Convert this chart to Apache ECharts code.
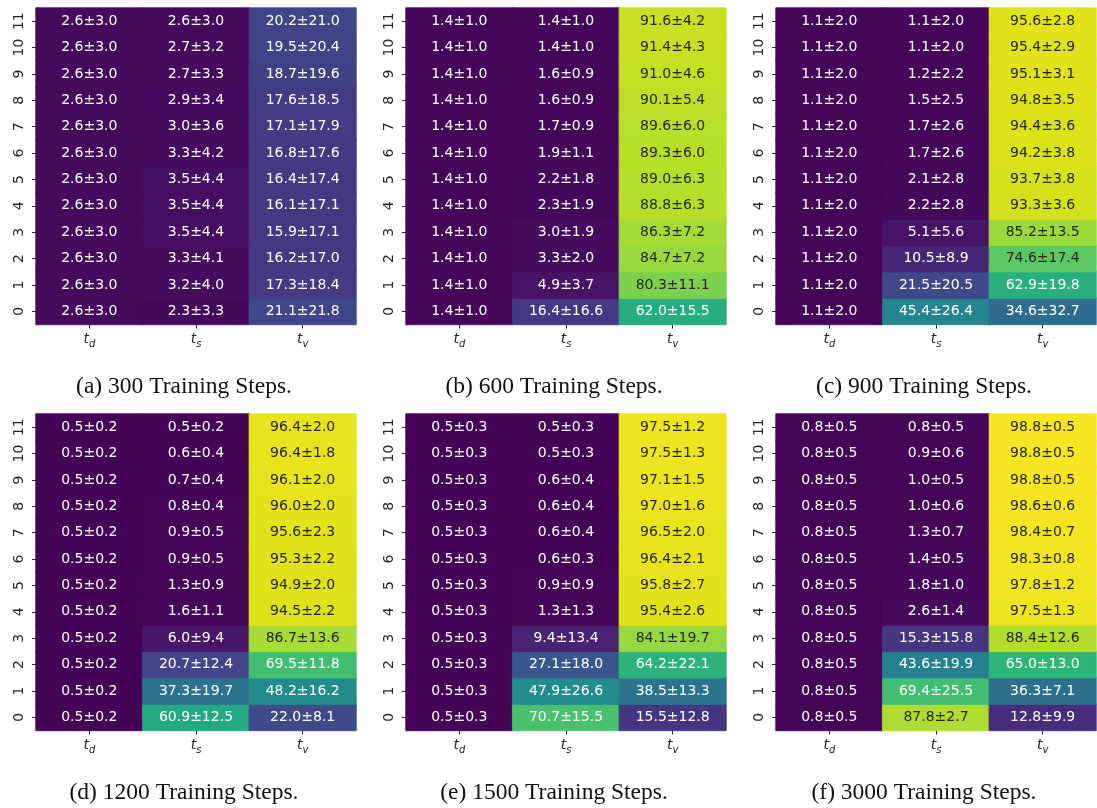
<!DOCTYPE html>
<html><head><meta charset="utf-8">
<script src="https://cdn.jsdelivr.net/npm/echarts@6/dist/echarts.min.js"></script>
<style>html,body{margin:0;padding:0;background:#fff}#c{width:1097px;height:808px}</style>
</head><body><div id="c"></div>
<script>
// ---------- data ----------
const rowLabels = ['0','1','2','3','4','5','6','7','8','9','10','11'];
const colLabels = ['t_d','t_s','t_v'];
const captions = ['(a) 300 Training Steps.','(b) 600 Training Steps.','(c) 900 Training Steps.',
                  '(d) 1200 Training Steps.','(e) 1500 Training Steps.','(f) 3000 Training Steps.'];

// values listed for rows 0 .. 11
const s300_tdMean = [2.6,2.6,2.6,2.6,2.6,2.6,2.6,2.6,2.6,2.6,2.6,2.6];
const s300_tdStd  = [3.0,3.0,3.0,3.0,3.0,3.0,3.0,3.0,3.0,3.0,3.0,3.0];
const s300_tsMean = [2.3,3.2,3.3,3.5,3.5,3.5,3.3,3.0,2.9,2.7,2.7,2.6];
const s300_tsStd  = [3.3,4.0,4.1,4.4,4.4,4.4,4.2,3.6,3.4,3.3,3.2,3.0];
const s300_tvMean = [21.1,17.3,16.2,15.9,16.1,16.4,16.8,17.1,17.6,18.7,19.5,20.2];
const s300_tvStd  = [21.8,18.4,17.0,17.1,17.1,17.4,17.6,17.9,18.5,19.6,20.4,21.0];

const s600_tdMean = [1.4,1.4,1.4,1.4,1.4,1.4,1.4,1.4,1.4,1.4,1.4,1.4];
const s600_tdStd  = [1.0,1.0,1.0,1.0,1.0,1.0,1.0,1.0,1.0,1.0,1.0,1.0];
const s600_tsMean = [16.4,4.9,3.3,3.0,2.3,2.2,1.9,1.7,1.6,1.6,1.4,1.4];
const s600_tsStd  = [16.6,3.7,2.0,1.9,1.9,1.8,1.1,0.9,0.9,0.9,1.0,1.0];
const s600_tvMean = [62.0,80.3,84.7,86.3,88.8,89.0,89.3,89.6,90.1,91.0,91.4,91.6];
const s600_tvStd  = [15.5,11.1,7.2,7.2,6.3,6.3,6.0,6.0,5.4,4.6,4.3,4.2];

const s900_tdMean = [1.1,1.1,1.1,1.1,1.1,1.1,1.1,1.1,1.1,1.1,1.1,1.1];
const s900_tdStd  = [2.0,2.0,2.0,2.0,2.0,2.0,2.0,2.0,2.0,2.0,2.0,2.0];
const s900_tsMean = [45.4,21.5,10.5,5.1,2.2,2.1,1.7,1.7,1.5,1.2,1.1,1.1];
const s900_tsStd  = [26.4,20.5,8.9,5.6,2.8,2.8,2.6,2.6,2.5,2.2,2.0,2.0];
const s900_tvMean = [34.6,62.9,74.6,85.2,93.3,93.7,94.2,94.4,94.8,95.1,95.4,95.6];
const s900_tvStd  = [32.7,19.8,17.4,13.5,3.6,3.8,3.8,3.6,3.5,3.1,2.9,2.8];

const s1200_tdMean = [0.5,0.5,0.5,0.5,0.5,0.5,0.5,0.5,0.5,0.5,0.5,0.5];
const s1200_tdStd  = [0.2,0.2,0.2,0.2,0.2,0.2,0.2,0.2,0.2,0.2,0.2,0.2];
const s1200_tsMean = [60.9,37.3,20.7,6.0,1.6,1.3,0.9,0.9,0.8,0.7,0.6,0.5];
const s1200_tsStd  = [12.5,19.7,12.4,9.4,1.1,0.9,0.5,0.5,0.4,0.4,0.4,0.2];
const s1200_tvMean = [22.0,48.2,69.5,86.7,94.5,94.9,95.3,95.6,96.0,96.1,96.4,96.4];
const s1200_tvStd  = [8.1,16.2,11.8,13.6,2.2,2.0,2.2,2.3,2.0,2.0,1.8,2.0];

const s1500_tdMean = [0.5,0.5,0.5,0.5,0.5,0.5,0.5,0.5,0.5,0.5,0.5,0.5];
const s1500_tdStd  = [0.3,0.3,0.3,0.3,0.3,0.3,0.3,0.3,0.3,0.3,0.3,0.3];
const s1500_tsMean = [70.7,47.9,27.1,9.4,1.3,0.9,0.6,0.6,0.6,0.6,0.5,0.5];
const s1500_tsStd  = [15.5,26.6,18.0,13.4,1.3,0.9,0.3,0.4,0.4,0.4,0.3,0.3];
const s1500_tvMean = [15.5,38.5,64.2,84.1,95.4,95.8,96.4,96.5,97.0,97.1,97.5,97.5];
const s1500_tvStd  = [12.8,13.3,22.1,19.7,2.6,2.7,2.1,2.0,1.6,1.5,1.3,1.2];

const s3000_tdMean = [0.8,0.8,0.8,0.8,0.8,0.8,0.8,0.8,0.8,0.8,0.8,0.8];
const s3000_tdStd  = [0.5,0.5,0.5,0.5,0.5,0.5,0.5,0.5,0.5,0.5,0.5,0.5];
const s3000_tsMean = [87.8,69.4,43.6,15.3,2.6,1.8,1.4,1.3,1.0,1.0,0.9,0.8];
const s3000_tsStd  = [2.7,25.5,19.9,15.8,1.4,1.0,0.5,0.7,0.6,0.5,0.6,0.5];
const s3000_tvMean = [12.8,36.3,65.0,88.4,97.5,97.8,98.3,98.4,98.6,98.8,98.8,98.8];
const s3000_tvStd  = [9.9,7.1,13.0,12.6,1.3,1.2,0.8,0.7,0.6,0.5,0.5,0.5];

// ---------- build ----------
const panelData = [
  [[s300_tdMean,s300_tdStd],[s300_tsMean,s300_tsStd],[s300_tvMean,s300_tvStd]],
  [[s600_tdMean,s600_tdStd],[s600_tsMean,s600_tsStd],[s600_tvMean,s600_tvStd]],
  [[s900_tdMean,s900_tdStd],[s900_tsMean,s900_tsStd],[s900_tvMean,s900_tvStd]],
  [[s1200_tdMean,s1200_tdStd],[s1200_tsMean,s1200_tsStd],[s1200_tvMean,s1200_tvStd]],
  [[s1500_tdMean,s1500_tdStd],[s1500_tsMean,s1500_tsStd],[s1500_tvMean,s1500_tvStd]],
  [[s3000_tdMean,s3000_tdStd],[s3000_tsMean,s3000_tsStd],[s3000_tvMean,s3000_tvStd]]
];

const VIRIDIS = ['#440154','#471365','#482475','#463480','#414487','#3b528b','#355f8d','#2f6c8e',
  '#2a788e','#25848e','#21918c','#1e9c89','#22a884','#2fb47c','#44bf70','#5ec962','#7ad151',
  '#9bd93c','#bddf26','#dfe318','#fde725'];

function hex2rgb(h){return [parseInt(h.substr(1,2),16),parseInt(h.substr(3,2),16),parseInt(h.substr(5,2),16)];}
function viridisRGB(t){
  t=Math.max(0,Math.min(1,t));
  const f=t*(VIRIDIS.length-1), i=Math.min(Math.floor(f),VIRIDIS.length-2), r=f-i;
  const a=hex2rgb(VIRIDIS[i]), b=hex2rgb(VIRIDIS[i+1]);
  return a.map((v,k)=>v+(b[k]-v)*r);
}
function viridisCss(v){const c=viridisRGB(v/100).map(Math.round);return 'rgb('+c.join(',')+')';}
function textColorFor(v){
  const c=viridisRGB(v/100).map(x=>{x/=255;return x<=0.03928?x/12.92:Math.pow((x+0.055)/1.055,2.4);});
  const L=0.2126*c[0]+0.7152*c[1]+0.0722*c[2];
  return L>0.408?'#262626':'#ffffff';
}

const gridLefts=[36,406,776], gridTops=[8,414];
const GW=320, GH=316.5;
const grids=[], xAxes=[], yAxes=[], series=[], graphics=[];
const FONT='DejaVu Sans';

panelData.forEach((pd,p)=>{
  const gx=gridLefts[p%3], gy=gridTops[Math.floor(p/3)];
  grids.push({left:gx, top:gy, width:GW, height:GH, containLabel:false});
  xAxes.push({type:'category', gridIndex:p, data:colLabels, position:'bottom',
    axisLine:{show:false}, splitLine:{show:false},
    axisTick:{show:true, alignWithLabel:true, length:4, lineStyle:{color:'#262626',width:1}},
    axisLabel:{margin:8, color:'#262626',
      formatter:v=>{const parts=v.split('_');return '{t|'+parts[0]+'}{s|'+parts[1]+'}';},
      rich:{
        t:{fontFamily:FONT,fontStyle:'italic',fontSize:14,lineHeight:16,verticalAlign:'top',color:'#262626'},
        s:{fontFamily:FONT,fontStyle:'italic',fontSize:10,lineHeight:12,padding:[7,0,0,0],verticalAlign:'top',color:'#262626'}
      }}});
  yAxes.push({type:'category', gridIndex:p, data:rowLabels,
    axisLine:{show:false}, splitLine:{show:false},
    axisTick:{show:true, alignWithLabel:true, length:4, lineStyle:{color:'#262626',width:1}},
    axisLabel:{rotate:90, margin:9, fontFamily:FONT, fontSize:14, lineHeight:15, color:'#262626', interval:0}});
  const data=[];
  pd.forEach((col,ci)=>{
    col[0].forEach((m,ri)=>{
      data.push({value:[ci,ri,m,col[1][ri]], label:{color:textColorFor(m)},
        itemStyle:{borderColor:viridisCss(m), borderWidth:0.8}});
    });
  });
  series.push({type:'heatmap', xAxisIndex:p, yAxisIndex:p, data:data,
    emphasis:{disabled:true},
    label:{show:true, fontFamily:FONT, fontSize:14,
      formatter:q=>q.value[2].toFixed(1)+'\u00b1'+q.value[3].toFixed(1)}});
  graphics.push({type:'text', x:gx+GW/2-12, y:gy+378.5,
    style:{text:captions[p], fill:'#111', font:'23.5px "Liberation Serif"', textAlign:'center', textVerticalAlign:'middle'}});
});

const chart=echarts.init(document.getElementById('c'),null,{renderer:'canvas'});
chart.setOption({
  animation:false,
  grid:grids, xAxis:xAxes, yAxis:yAxes, series:series,
  visualMap:{type:'continuous', show:false, min:0, max:100, dimension:2,
    seriesIndex:[0,1,2,3,4,5], inRange:{color:VIRIDIS}},
  graphic:graphics
});
</script></body></html>
